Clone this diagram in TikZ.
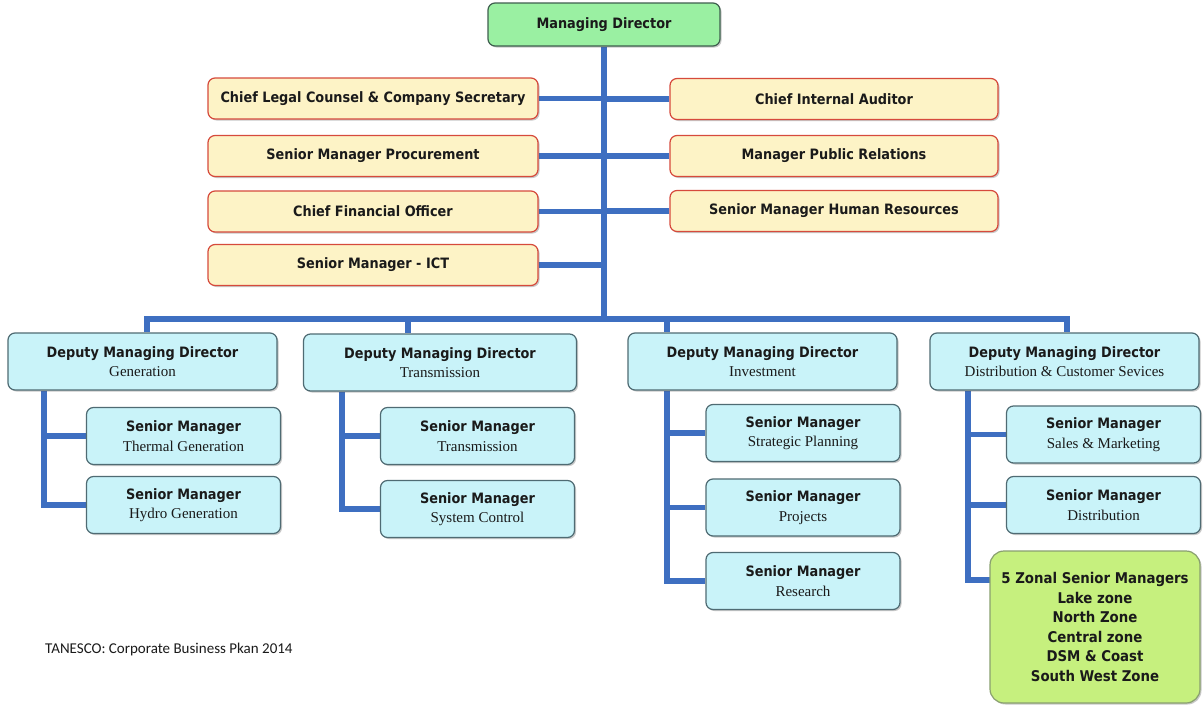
\documentclass[tikz,border=0pt]{standalone}
\usepackage{fontspec}
\setmainfont{Liberation Serif}
\newfontfamily\hdfont{DejaVu Sans Condensed}
\newfontfamily\capfont{Carlito}
\usetikzlibrary{shadows,backgrounds}

\definecolor{mdgreen}{HTML}{9AF0A2}
\definecolor{mdline}{HTML}{3F5F4F}
\definecolor{staffyel}{HTML}{FDF3C6}
\definecolor{staffred}{HTML}{D64A3C}
\definecolor{depcyan}{HTML}{C9F3F9}
\definecolor{depline}{HTML}{4F6B73}
\definecolor{zonegreen}{HTML}{C6F07E}
\definecolor{zoneline}{HTML}{8AA070}
\definecolor{linkblue}{HTML}{3E6FC1}
\definecolor{ink}{HTML}{1A1A1A}

\newcommand\ttlfont{\hdfont\bfseries\fontsize{14.3}{19.5}\selectfont}
\newcommand\subfont{\normalfont\fontsize{15}{19.5}\selectfont}

\tikzset{
  box/.style={rounded corners=7pt, draw, line width=1.2pt, align=center,
    inner sep=0pt, font=\ttlfont, text=ink,
    drop shadow={shadow xshift=1.5pt, shadow yshift=-1.5pt, opacity=0.3, fill=black!70}},
  mdbox/.style={box, fill=mdgreen, draw=mdline},
  staff/.style={box, fill=staffyel, draw=staffred, minimum height=41pt},
  dep/.style={box, fill=depcyan, draw=depline, minimum height=57pt},
  subbox/.style={box, fill=depcyan, draw=depline, minimum width=194pt, minimum height=57pt},
  zonebox/.style={box, rounded corners=14pt, fill=zonegreen, draw=zoneline,
    font=\hdfont\bfseries\fontsize{14.8}{19.6}\selectfont},
  link/.style={draw=linkblue, line width=5.5pt},
}

\begin{document}
\begin{tikzpicture}[x=1pt,y=-1pt]
\useasboundingbox (0,0) rectangle (1203,707);

% top of the chart
\node[mdbox, minimum width=232pt, minimum height=43pt] (md) at (604,24.5) {Managing Director};

% staff offices, left column
\node[staff, minimum width=330pt] (legal) at (373,98.5) {Chief Legal Counsel \& Company Secretary};
\node[staff, minimum width=330pt] (proc)  at (373,156)  {Senior Manager Procurement};
\node[staff, minimum width=330pt] (cfo)   at (373,211.5){Chief Financial Officer};
\node[staff, minimum width=330pt] (ict)   at (373,265)  {Senior Manager - ICT};

% staff offices, right column
\node[staff, minimum width=328pt] (audit) at (834,99)  {Chief Internal Auditor};
\node[staff, minimum width=328pt] (pr)    at (834,156) {Manager Public Relations};
\node[staff, minimum width=328pt] (hr)    at (834,211) {Senior Manager Human Resources};

% deputy managing directors
\node[dep, minimum width=269pt] (gen)   at (142.5,361.5) {Deputy Managing Director\\{\subfont Generation}};
\node[dep, minimum width=273pt] (trans) at (440,362.5)   {Deputy Managing Director\\{\subfont Transmission}};
\node[dep, minimum width=269pt] (inv)   at (762.5,361.5) {Deputy Managing Director\\{\subfont Investment}};
\node[dep, minimum width=269pt] (dist)  at (1064.5,361.5){Deputy Managing Director\\{\subfont Distribution \& Customer Sevices}};

% senior managers under Generation
\node[subbox] (g1) at (183.5,436) {Senior Manager\\{\subfont Thermal Generation}};
\node[subbox] (g2) at (183.5,505) {Senior Manager\\{\subfont Hydro Generation}};

% senior managers under Transmission
\node[subbox] (t1) at (477.5,436) {Senior Manager\\{\subfont Transmission}};
\node[subbox] (t2) at (477.5,509) {Senior Manager\\{\subfont System Control}};

% senior managers under Investment
\node[subbox] (i1) at (803,433)   {Senior Manager\\{\subfont Strategic Planning}};
\node[subbox] (i2) at (803,507.5) {Senior Manager\\{\subfont Projects}};
\node[subbox] (i3) at (803,581)   {Senior Manager\\{\subfont Research}};

% senior managers under Distribution
\node[subbox] (d1) at (1103.5,434.5) {Senior Manager\\{\subfont Sales \& Marketing}};
\node[subbox] (d2) at (1103.5,505)   {Senior Manager\\{\subfont Distribution}};
\node[zonebox, minimum width=210pt, minimum height=152pt] (zone) at (1095,627)
  {5 Zonal Senior Managers\\Lake zone\\North Zone\\Central zone\\DSM \& Coast\\South West Zone};

% source note
\node[anchor=west, font=\capfont\fontsize{15}{18}\selectfont, text=ink, inner sep=0pt] (src) at (45,649)
  {TANESCO: Corporate Business Pkan 2014};

% joints of the connector lines
\coordinate (bus) at (604,319);
\coordinate (jG) at (147,319);
\coordinate (jT) at (408,319);
\coordinate (jI) at (667,319);
\coordinate (jD) at (1067,319);
\coordinate (cG) at (44,0);
\coordinate (cT) at (342,0);
\coordinate (cI) at (667,0);
\coordinate (cD) at (968,0);
\coordinate (zj) at (990,580);

\begin{pgfonlayer}{background}
  \fill[white] (0,0) rectangle (1203,707);
  % trunk and staff branches
  \draw[link] (md.south) -- (bus);
  \foreach \n in {legal,proc,cfo,ict,audit,pr,hr}
    \draw[link] (\n) -- (\n -| md.south);
  % bus to the deputies
  \draw[link] (jG |- gen.north) -- (jG) -- (jD) -- (jD |- dist.north);
  \draw[link] (jT) -- (jT |- trans.north);
  \draw[link] (jI) -- (jI |- inv.north);
  % Generation
  \draw[link] (cG |- gen.south) |- (g2.west);
  \draw[link] (cG |- g1.west) -- (g1.west);
  % Transmission
  \draw[link] (cT |- trans.south) |- (t2.west);
  \draw[link] (cT |- t1.west) -- (t1.west);
  % Investment
  \draw[link] (cI |- inv.south) |- (i3.west);
  \draw[link] (cI |- i1.west) -- (i1.west);
  \draw[link] (cI |- i2.west) -- (i2.west);
  % Distribution
  \draw[link] (cD |- dist.south) |- (zj);
  \draw[link] (cD |- d1.west) -- (d1.west);
  \draw[link] (cD |- d2.west) -- (d2.west);
\end{pgfonlayer}
\end{tikzpicture}
\end{document}
